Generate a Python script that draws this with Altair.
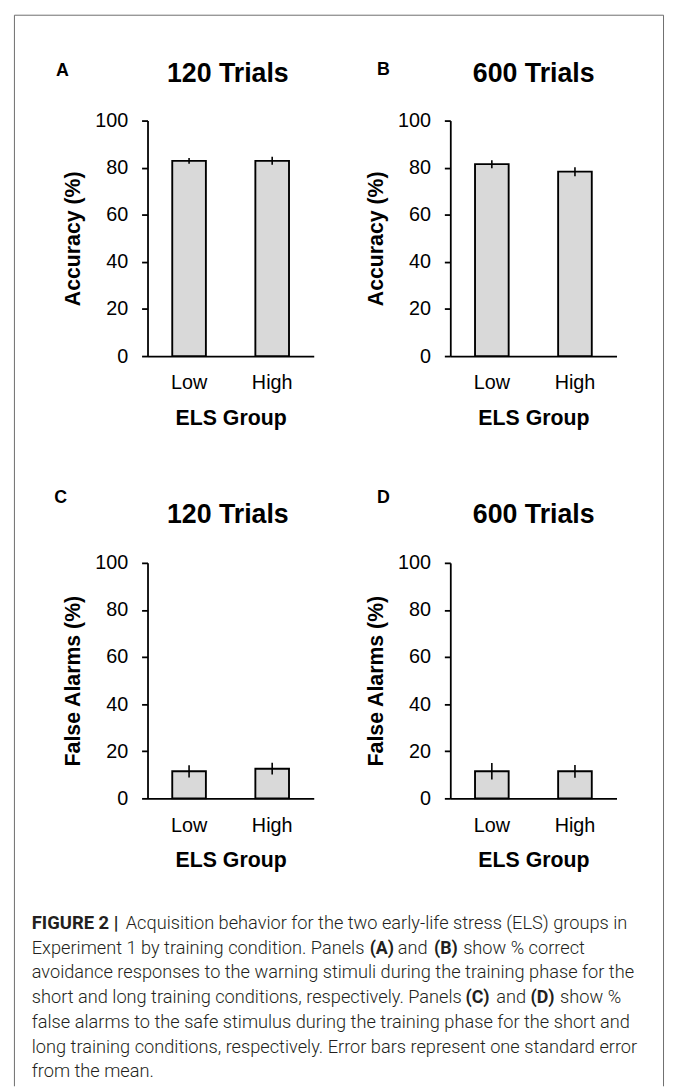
import altair as alt
import pandas as pd

# ---------------- data ----------------
groups = ["Low", "High"]
y_ticks = [0, 20, 40, 60, 80, 100]
x_title = "ELS Group"

panel_letters = ["A", "B", "C", "D"]
panel_titles = ["120 Trials", "600 Trials", "120 Trials", "600 Trials"]
y_titles = ["Accuracy (%)", "Accuracy (%)", "False Alarms (%)", "False Alarms (%)"]

acc_120_mean = [82.9, 82.9]
acc_120_se = [1.2, 1.7]
acc_600_mean = [81.5, 78.3]
acc_600_se = [1.7, 1.9]
fa_120_mean = [11.5, 12.6]
fa_120_se = [2.6, 2.5]
fa_600_mean = [11.5, 11.5]
fa_600_se = [3.5, 2.7]

caption_segments = [
    [("FIGURE 2 |", True), ("Acquisition behavior for the two early-life stress (ELS) groups in", False)],
    [("Experiment 1 by training condition. Panels", False), ("(A)", True), ("and", False), ("(B)", True),
     ("show % correct", False)],
    [("avoidance responses to the warning stimuli during the training phase for the", False)],
    [("short and long training conditions, respectively. Panels", False), ("(C)", True), ("and", False),
     ("(D)", True), ("show %", False)],
    [("false alarms to the safe stimulus during the training phase for the short and", False)],
    [("long training conditions, respectively. Error bars represent one standard error", False)],
    [("from the mean.", False)],
]

# ---------------- layout (pixels) ----------------
FONT = "Liberation Sans"
PW, PH = 168, 238
LETTER_XY = [(-86, -50), (-67.7, -51.3), (-87.7, -65.4), (-67.7, -65.4)]
TITLE_XY = [(81.2, -39), (84.3, -39), (81.2, -40), (84.3, -40)]
# caption segment left edges (page x)
CAPTION_X = [
    [31, 126],
    [31, 372.5, 401, 437.5, 467],
    [31],
    [31, 469.5, 500.5, 535, 565],
    [31],
    [31],
    [31],
]
CAP_ORIGIN_X = 148      # page x of caption cell origin
CAP_ORIGIN_Y = 1009     # page y of caption cell origin
CAP_BASE0 = 932
CAP_STEP = 25
CAP_SIZE = 18.4
CAP_BOLD_SIZE = 18.0


def make_panel(mean, se, letter, title, ytitle, letter_xy, title_xy):
    df = pd.DataFrame({
        "group": groups,
        "mean": mean,
        "lo": [m - s for m, s in zip(mean, se)],
        "hi": [m + s for m, s in zip(mean, se)],
    })
    xenc = alt.X(
        "group:N", sort=groups, title=x_title,
        scale=alt.Scale(paddingInner=0, paddingOuter=0),
        axis=alt.Axis(labelAngle=0, ticks=False, tickSize=0, domainColor="black", domainWidth=1.8,
                      labelFont=FONT, labelFontSize=20, labelColor="black", labelPadding=17,
                      titleFont=FONT, titleFontSize=21.5, titleFontWeight="bold", titleColor="black",
                      titlePadding=15),
    )
    yscale = alt.Scale(domain=[0, 100], nice=False)
    yaxis = alt.Axis(values=y_ticks, title=ytitle, grid=False, domainColor="black", domainWidth=1.8,
                     tickColor="black", tickWidth=1.8, tickSize=6,
                     labelFont=FONT, labelFontSize=20, labelColor="black", labelPadding=14,
                     titleFont=FONT, titleFontSize=21.5, titleFontWeight="bold", titleColor="black",
                     titlePadding=10)
    bars = alt.Chart(df).mark_bar(size=34, fill="#d9d9d9", stroke="black", strokeWidth=1.9).encode(
        x=xenc, y=alt.Y("mean:Q", scale=yscale, axis=yaxis))
    errs = alt.Chart(df).mark_rule(color="black", strokeWidth=1.6).encode(
        x=xenc, y=alt.Y("lo:Q", scale=yscale, axis=yaxis), y2="hi:Q")
    lab = alt.Chart(pd.DataFrame({"t": [letter]})).mark_text(
        font=FONT, fontSize=18, fontWeight="bold", align="center", baseline="middle", color="black"
    ).encode(text="t:N", x=alt.value(letter_xy[0]), y=alt.value(letter_xy[1]))
    ttl = alt.Chart(pd.DataFrame({"t": [title]})).mark_text(
        font=FONT, fontSize=27, fontWeight="bold", align="center", baseline="alphabetic", color="black"
    ).encode(text="t:N", x=alt.value(title_xy[0]), y=alt.value(title_xy[1]))
    return alt.layer(bars, errs, lab, ttl).properties(width=PW, height=PH)


series = [(acc_120_mean, acc_120_se), (acc_600_mean, acc_600_se),
          (fa_120_mean, fa_120_se), (fa_600_mean, fa_600_se)]
panels = [make_panel(m, s, panel_letters[i], panel_titles[i], y_titles[i], LETTER_XY[i], TITLE_XY[i])
          for i, (m, s) in enumerate(series)]

# ---------------- caption ----------------
rows = []
for li, (segs, xs) in enumerate(zip(caption_segments, CAPTION_X)):
    for (txt, bold), x in zip(segs, xs):
        rows.append({"line": li, "text": txt, "bold": bold, "x": x - CAP_ORIGIN_X})
cap_df = pd.DataFrame(rows)
n_lines = len(caption_segments)
y_cap = alt.Y("line:Q", axis=None,
              scale=alt.Scale(domain=[0, n_lines - 1],
                              range=[CAP_BASE0 - CAP_ORIGIN_Y,
                                     CAP_BASE0 - CAP_ORIGIN_Y + CAP_STEP * (n_lines - 1)]))
x_cap = alt.X("x:Q", scale=None, axis=None)
cap_norm = alt.Chart(cap_df).transform_filter("!datum.bold").mark_text(
    font="Roboto", fontWeight=300, fontSize=CAP_SIZE, align="left", baseline="alphabetic", color="#231f20"
).encode(x=x_cap, y=y_cap, text="text:N")
cap_bold_first = alt.Chart(cap_df).transform_filter("datum.bold && datum.line == 0").mark_text(
    font="Roboto", fontWeight="bold", fontSize=18.6, align="left", baseline="alphabetic", color="#231f20"
).encode(x=x_cap, y=y_cap, text="text:N")
cap_bold = alt.Chart(cap_df).transform_filter("datum.bold && datum.line > 0").mark_text(
    font="Roboto", fontWeight="bold", fontSize=CAP_BOLD_SIZE, align="left", baseline="alphabetic",
    color="#231f20"
).encode(x=x_cap, y=y_cap, text="text:N")

# frame around the figure
L, R, T, B = 13.5 - CAP_ORIGIN_X, 669.5 - CAP_ORIGIN_X, 8.5 - CAP_ORIGIN_Y, 1091 - CAP_ORIGIN_Y
one = pd.DataFrame({"k": [0]})
frame_left = alt.Chart(one).mark_rule(color="#6d6d6d", strokeWidth=1).encode(
    x=alt.value(L), y=alt.value(T), y2=alt.value(B))
frame_right = alt.Chart(one).mark_rule(color="#6d6d6d", strokeWidth=1).encode(
    x=alt.value(R), y=alt.value(T), y2=alt.value(B))
frame_top = alt.Chart(one).mark_rule(color="#6d6d6d", strokeWidth=1).encode(
    x=alt.value(L), x2=alt.value(R), y=alt.value(T))

caption = alt.layer(frame_left, frame_right, frame_top, cap_norm, cap_bold_first, cap_bold).properties(
    width=PW, height=10)

chart = alt.concat(
    *panels, caption, columns=2, spacing={"row": 209, "column": 138}, bounds="flush"
).properties(
    padding={"left": 5, "top": 0, "right": 0, "bottom": 0}
).configure_view(stroke="transparent")

chart.save("out.html", embed_options={"renderer": "svg", "actions": False})
